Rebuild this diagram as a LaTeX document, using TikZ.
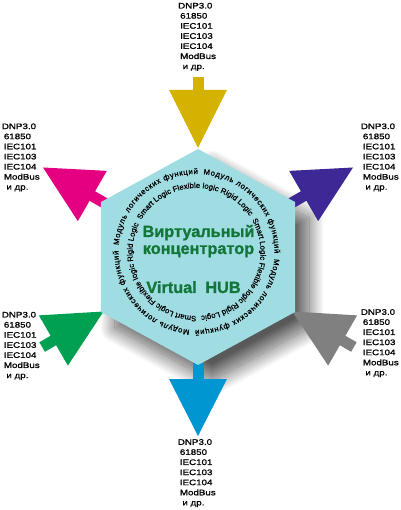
\documentclass[tikz,border=0pt]{standalone}
\usepackage{fontspec}
\setmainfont{Liberation Sans}
\newfontfamily\protofont[FakeStretch=1.22,FakeBold=1.2]{Liberation Sans}
\newfontfamily\ringfamily[FakeBold=0.8]{Liberation Sans}
\newfontfamily\hubfont[BoldFeatures={FakeBold=1.2}]{Liberation Sans}
\usepackage{tikz}
\usetikzlibrary{decorations.text,shadows.blur}

\definecolor{hexfill}{RGB}{160,221,227}
\definecolor{hubgreen}{RGB}{18,118,56}
\definecolor{arryellow}{RGB}{212,178,0}
\definecolor{arrmagenta}{RGB}{228,0,128}
\definecolor{arrpurple}{RGB}{62,40,150}
\definecolor{arrgreen}{RGB}{0,160,82}
\definecolor{arrgray}{RGB}{128,128,128}
\definecolor{arrblue}{RGB}{0,150,210}
\newcommand\ringfont{\ringfamily\fontsize{7.7}{8}\selectfont}

\begin{document}
\begin{tikzpicture}[x=1pt,y=1pt,
  proto/.style={font=\protofont\fontsize{8}{10.1}\selectfont,align=left,anchor=north west,inner sep=0pt},
  hubtext/.style={font=\hubfont\bfseries\fontsize{16.3}{17}\selectfont,text=hubgreen,anchor=base,inner sep=0pt}]
\useasboundingbox (-198,-253) rectangle (202,257);
\path[blur shadow={shadow xshift=14pt,shadow yshift=-16pt,shadow blur radius=15pt,
    shadow blur steps=30,shadow opacity=65}]
  (0,108) -- (-97,55) -- (-97,-55) -- (0,-108) -- (97,-55) -- (97,55) -- cycle;
% outgoing arrows
\foreach \a/\c in {150/arrmagenta,30/arrpurple,-90/arrblue}{
  \begin{scope}[rotate=\a]
  \fill[\c] (98,-5.5) rectangle (123,5.5);
  \fill[\c] (122,-29) -- (179,0) -- (122,29) -- cycle;
  \end{scope}
}
% incoming arrows
\foreach \a/\c in {90/arryellow,-30/arrgray,-150/arrgreen}{
  \begin{scope}[rotate=\a]
  \fill[\c] (109,0) -- (167,29) -- (167,-29) -- cycle;
  \fill[\c] (166,-5.5) rectangle (180,5.5);
  \end{scope}
}
\fill[hexfill] (0,108) -- (-97,55) -- (-97,-55) -- (0,-108) -- (97,-55) -- (97,55) -- cycle;
% text rings
\begin{scope}[shift={(-1.5,5)}]
\foreach \a in {175,85,-5,-95}
  \path[decorate,decoration={text along path,text align=fit to path,
    text={|\ringfont|Модуль логических функций}}] (\a:78) arc[start angle=\a,end angle=\a-86,radius=78];
\foreach \a in {150,30,-90}
  \path[decorate,decoration={text along path,text align=fit to path,
    text={|\ringfont|Smart Logic Flexible logic Rigid Logic}}] (\a:64) arc[start angle=\a,end angle=\a-116,radius=64];
\end{scope}
\node[hubtext] (hubru1) at (0.5,20) {Виртуальный};
\node[hubtext] (hubru2) at (0.5,3) {концентратор};
\node[hubtext] (hubeng) at (-4.5,-36) {Virtual\hspace{4pt} HUB};
% protocol lists
\node[proto] (protop) at (-20,254.3) {DNP3.0\\\hspace{2pt}61850\\\hspace{2pt}IEC101\\\hspace{2pt}IEC103\\\hspace{2pt}IEC104\\\hspace{2pt}ModBus\\\hspace{4.5pt}и др.};
\node[proto] (protul) at (-196.3,133.7) {DNP3.0\\\hspace{2pt}61850\\\hspace{2pt}IEC101\\\hspace{2pt}IEC103\\\hspace{2pt}IEC104\\\hspace{2pt}ModBus\\\hspace{4.5pt}и др.};
\node[proto] (protur) at (162.7,133.7) {DNP3.0\\\hspace{2pt}61850\\\hspace{2pt}IEC101\\\hspace{2pt}IEC103\\\hspace{2pt}IEC104\\\hspace{2pt}ModBus\\\hspace{4.5pt}и др.};
\node[proto] (protll) at (-196.3,-54.7) {DNP3.0\\\hspace{2pt}61850\\\hspace{2pt}IEC101\\\hspace{2pt}IEC103\\\hspace{2pt}IEC104\\\hspace{2pt}ModBus\\\hspace{4.5pt}и др.};
\node[proto] (protlr) at (162.7,-52) {DNP3.0\\\hspace{2pt}61850\\\hspace{2pt}IEC101\\\hspace{2pt}IEC103\\\hspace{2pt}IEC104\\\hspace{2pt}ModBus\\\hspace{4.5pt}и др.};
\node[proto] (protbot) at (-20.3,-182) {DNP3.0\\\hspace{2pt}61850\\\hspace{2pt}IEC101\\\hspace{2pt}IEC103\\\hspace{2pt}IEC104\\\hspace{2pt}ModBus\\\hspace{4.5pt}и др.};
\end{tikzpicture}
\end{document}
